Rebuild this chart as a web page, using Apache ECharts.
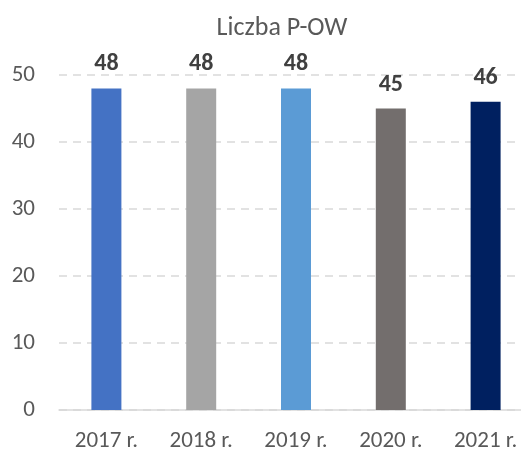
<!DOCTYPE html>
<html>
<head>
<meta charset="utf-8">
<script src="https://cdn.jsdelivr.net/npm/echarts@6/dist/echarts.min.js"></script>
<style>
  html, body { margin: 0; padding: 0; background: #fff; overflow: hidden; }
  #chart { width: 533px; height: 451px; }
</style>
</head>
<body>
<div id="chart"></div>
<script>
  var years = ['2017 r.', '2018 r.', '2019 r.', '2020 r.', '2021 r.']
  var counts = [48, 48, 48, 45, 46]
  var barColors = ['#4472C4', '#A5A5A5', '#5B9BD5', '#736E6D', '#002060']
  var font = 'Carlito, Lato, sans-serif'

  // the plot runs a little past the right edge of the window, as in the source
  var chart = echarts.init(document.getElementById('chart'))
  var option = {
    animation: false,
    title: {
      text: 'Liczba P-OW',
      left: 277,
      top: 10,
      textAlign: 'center',
      textStyle: { fontFamily: font, fontSize: 26, fontWeight: 'normal', color: '#595959' }
    },
    grid: { left: 59, right: 0, top: 75, bottom: 41, outerBoundsMode: 'none', containLabel: false },
    xAxis: {
      type: 'category',
      data: years,
      axisLine: { lineStyle: { color: '#D9D9D9', width: 1.5 } },
      axisTick: { show: false },
      axisLabel: { fontFamily: font, fontSize: 23, color: '#595959', margin: 20 }
    },
    yAxis: {
      type: 'value',
      min: 0,
      max: 50,
      interval: 10,
      axisLine: { show: false },
      axisTick: { show: false },
      axisLabel: { fontFamily: font, fontSize: 23, color: '#595959', margin: 24 },
      splitLine: { lineStyle: { color: '#D9D9D9', type: [8, 6], width: 1.5 } }
    },
    series: [{
      type: 'bar',
      barWidth: 30,
      data: counts.map(function (v, i) {
        return { value: v, itemStyle: { color: barColors[i] } }
      }),
      label: {
        show: true,
        position: 'top',
        distance: 12,
        fontFamily: font,
        fontSize: 24,
        fontWeight: 'bold',
        color: '#404040'
      }
    }]
  }
  chart.setOption(option)
</script>
</body>
</html>
